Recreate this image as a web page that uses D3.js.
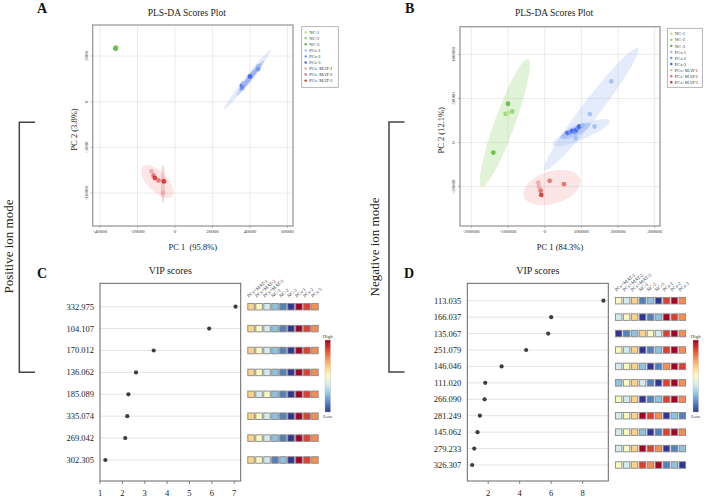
<!DOCTYPE html>
<html>
<head>
<meta charset="utf-8">
<script src="https://cdn.jsdelivr.net/npm/d3@7/dist/d3.min.js"></script>
<style>
  body { margin: 0; background: #fff; }
  svg { display: block; font-family: "Liberation Serif", "Times New Roman", serif; }
</style>
</head>
<body>
<div id="fig"></div>
<script>
// ---- data ----
const groups = ["NC-1", "NC-2", "NC-3", "PCs-1", "PCs-2", "PCs-3", "PCs+MAT-1", "PCs+MAT-2", "PCs+MAT-3"];
const groupColors = ["#b5e68c", "#8ed46a", "#5cb83c", "#9dbcf2", "#6f93ef", "#3f5ff0", "#f2a2a2", "#e26666", "#d42a2a"];

// positive mode scores (PC1, PC2)
const scoresPos = [
  { g: "NC-1", x: -31900, y: 5850 }, { g: "NC-2", x: -31500, y: 5950 }, { g: "NC-3", x: -31700, y: 5800 },
  { g: "PCs-1", x: 44400, y: 3860 }, { g: "PCs-2", x: 44400, y: 3580 }, { g: "PCs-3", x: 40000, y: 2770 },
  { g: "PCs-3", x: 35730, y: 1750 }, { g: "PCs-2", x: 35730, y: 1500 }, { g: "PCs-1", x: 36500, y: 2000 },
  { g: "PCs+MAT-1", x: -12480, y: -7625 }, { g: "PCs+MAT-2", x: -11410, y: -8100 }, { g: "PCs+MAT-3", x: -10670, y: -8350 },
  { g: "PCs+MAT-2", x: -8750, y: -8610 }, { g: "PCs+MAT-1", x: -6400, y: -8640 }, { g: "PCs+MAT-3", x: -5870, y: -8720 },
  { g: "PCs+MAT-1", x: -6400, y: -9990 }
];
// confidence ellipses: ends of the major axis + minor/major ratio
const ellipsesPos = [
  { g: "NC-2", x1: -33200, y1: 5880, x2: -30300, y2: 5880, r: 0.9 },
  { g: "PCs-1", x1: 26300, y1: -800, x2: 51200, y2: 5690, r: 0.08 },
  { g: "PCs-2", x1: 33000, y1: 700, x2: 47500, y2: 4500, r: 0.12 },
  { g: "PCs-3", x1: 34500, y1: 1200, x2: 46000, y2: 4200, r: 0.14 },
  { g: "PCs+MAT-1", x1: -17280, y1: -7080, x2: -1600, y2: -10360, r: 0.47 },
  { g: "PCs+MAT-2", x1: -6400, y1: -6890, x2: -6400, y2: -11050, r: 0.1 }
];

// negative mode scores
const scoresNeg = [
  { g: "NC-3", x: -100000, y: 44000 }, { g: "NC-2", x: -106300, y: 32600 }, { g: "NC-1", x: -100000, y: 33400 },
  { g: "NC-2", x: -88300, y: 35200 }, { g: "NC-3", x: -140000, y: -11400 },
  { g: "PCs-3", x: 61600, y: 10700 }, { g: "PCs-2", x: 68900, y: 11400 }, { g: "PCs-3", x: 75200, y: 13300 },
  { g: "PCs-2", x: 82600, y: 11800 }, { g: "PCs-3", x: 86100, y: 14400 }, { g: "PCs-2", x: 90700, y: 16400 },
  { g: "PCs-3", x: 94300, y: 18200 }, { g: "PCs-1", x: 103500, y: 19300 }, { g: "PCs-1", x: 123400, y: 32300 },
  { g: "PCs-1", x: 136200, y: 18200 }, { g: "PCs-1", x: 181500, y: 69300 }, { g: "PCs-1", x: 84500, y: 5000 },
  { g: "PCs-1", x: 54500, y: 7600 },
  { g: "PCs+MAT-1", x: -17400, y: -45500 }, { g: "PCs+MAT-1", x: -15500, y: -50000 }, { g: "PCs+MAT-2", x: -10900, y: -54500 },
  { g: "PCs+MAT-3", x: -9300, y: -59400 }, { g: "PCs+MAT-2", x: 13600, y: -43500 }, { g: "PCs+MAT-2", x: 52600, y: -47300 }
];
const ellipsesNeg = [
  { g: "NC-2", x1: -171700, y1: -50000, x2: -45500, y2: 94800, r: 0.15 },
  { g: "PCs-1", x1: 0, y1: -31000, x2: 254200, y2: 107300, r: 0.12 },
  { g: "PCs-1", x1: 20700, y1: -2600, x2: 177900, y2: 25000, r: 0.22 },
  { g: "PCs-2", x1: 42000, y1: 5200, x2: 123700, y2: 21100, r: 0.3 },
  { g: "PCs+MAT-1", x1: -56900, y1: -60900, x2: 96700, y2: -41400, r: 0.55 }
];

const ticksPosX = [-40000, -20000, 0, 20000, 40000, 60000];
const ticksPosY = [-10000, -5000, 0, 5000];
const ticksNegX = [-200000, -100000, 0, 100000, 200000, 300000];
const ticksNegY = [-50000, 0, 50000, 100000];

// VIP scores
const heatCols = ["PCs+MAT-1", "PCs+MAT-2", "PCs+MAT-3", "NC-1", "NC-2", "NC-3", "PCs-1", "PCs-2", "PCs-3"];

const vipPosNames = ["332.975", "104.107", "170.012", "136.062", "185.089", "335.074", "269.042", "302.305"];
const vipPosValues = [7.06, 5.88, 3.40, 2.61, 2.27, 2.22, 2.13, 1.24];
const vipPosTicks = [1, 2, 3, 4, 5, 6, 7];
// relative level of each metabolite per sample (1 = low ... 9 = high)
const vipPosHeat = [
  [6, 5, 4, 3, 2, 1, 9, 8, 7],
  [6, 5, 4, 3, 2, 1, 9, 8, 7],
  [6, 5, 4, 3, 2, 1, 9, 8, 7],
  [6, 5, 4, 3, 2, 1, 9, 8, 7],
  [6, 4, 5, 3, 2, 1, 9, 8, 7],
  [6, 5, 4, 3, 2, 1, 9, 8, 7],
  [6, 5, 4, 3, 2, 1, 9, 8, 7],
  [6, 5, 4, 2, 3, 1, 9, 8, 7]
];

const vipNegNames = ["113.035", "166.037", "135.067", "251.079", "146.046", "111.020", "266.090", "281.249", "145.062", "279.233", "326.307"];
const vipNegValues = [9.32, 6.0, 5.81, 4.41, 2.85, 1.81, 1.77, 1.47, 1.32, 1.11, 0.98];
const vipNegTicks = [2, 4, 6, 8];
const vipNegHeat = [
  [5, 4, 6, 2, 3, 1, 8, 9, 7],
  [4, 5, 6, 1, 2, 3, 9, 8, 7],
  [1, 2, 3, 6, 5, 4, 8, 9, 7],
  [5, 4, 6, 1, 2, 3, 8, 9, 7],
  [4, 5, 6, 3, 1, 2, 7, 9, 8],
  [3, 5, 6, 4, 2, 1, 8, 9, 7],
  [5, 4, 6, 1, 2, 3, 8, 9, 7],
  [4, 5, 6, 9, 8, 7, 1, 3, 2],
  [4, 5, 6, 3, 1, 2, 8, 9, 7],
  [4, 5, 6, 9, 8, 7, 1, 2, 3],
  [5, 4, 6, 8, 7, 9, 2, 3, 1]
];

// ---- drawing ----
const W = 708, H = 497;
const svg = d3.select("#fig").append("svg").attr("width", W).attr("height", H);
const defs = svg.append("defs");
const color = d3.scaleOrdinal().domain(groups).range(groupColors);
const heatColor = d3.scaleSequential(d3.interpolateRdYlBu).domain([9, 1]);

function panelLabel(txt, x, y) {
  svg.append("text").attr("x", x).attr("y", y)
    .attr("font-size", 14).attr("font-weight", "bold").attr("fill", "#111").text(txt);
}

function drawScores(cfg) {
  const { box, xDomain, yDomain, xTicks, yTicks, points, ellipses, xTitle, yTitle, legendBox } = cfg;
  const x = d3.scaleLinear().domain(xDomain).range([box.x0, box.x1]);
  const y = d3.scaleLinear().domain(yDomain).range([box.y1, box.y0]);
  const g = svg.append("g");

  svg.append("text").attr("x", (box.x0 + box.x1) / 2 - 6).attr("y", 16)
    .attr("text-anchor", "middle").attr("font-size", 9.5).attr("fill", "#222")
    .text("PLS-DA Scores Plot");

  // grid
  g.selectAll(".gx").data(xTicks).enter().append("line")
    .attr("x1", d => x(d)).attr("x2", d => x(d)).attr("y1", box.y0).attr("y2", box.y1)
    .attr("stroke", "#e6e6e6").attr("stroke-width", 0.8);
  g.selectAll(".gy").data(yTicks).enter().append("line")
    .attr("y1", d => y(d)).attr("y2", d => y(d)).attr("x1", box.x0).attr("x2", box.x1)
    .attr("stroke", "#e6e6e6").attr("stroke-width", 0.8);

  // ellipses
  g.selectAll(".ell").data(ellipses).enter().append("ellipse")
    .each(function (d) {
      const ax = x(d.x1), ay = y(d.y1), bx = x(d.x2), by = y(d.y2);
      const cx = (ax + bx) / 2, cy = (ay + by) / 2;
      const a = Math.hypot(bx - ax, by - ay) / 2;
      const ang = Math.atan2(by - ay, bx - ax) * 180 / Math.PI;
      d3.select(this).attr("cx", cx).attr("cy", cy).attr("rx", a).attr("ry", a * d.r)
        .attr("transform", `rotate(${ang} ${cx} ${cy})`);
    })
    .attr("fill", d => color(d.g)).attr("fill-opacity", 0.28);

  // points
  g.selectAll(".pt").data(points).enter().append("circle")
    .attr("cx", d => x(d.x)).attr("cy", d => y(d.y)).attr("r", 2.4)
    .attr("fill", d => color(d.g)).attr("fill-opacity", 0.85);

  // frame
  g.append("rect").attr("x", box.x0).attr("y", box.y0)
    .attr("width", box.x1 - box.x0).attr("height", box.y1 - box.y0)
    .attr("fill", "none").attr("stroke", "#9a9a9a").attr("stroke-width", 1.3);

  // ticks + labels
  g.selectAll(".tx").data(xTicks).enter().append("line")
    .attr("x1", d => x(d)).attr("x2", d => x(d)).attr("y1", box.y1).attr("y2", box.y1 + 2)
    .attr("stroke", "#888").attr("stroke-width", 0.6);
  g.selectAll(".lx").data(xTicks).enter().append("text")
    .attr("x", d => x(d)).attr("y", box.y1 + 7)
    .attr("text-anchor", "middle").attr("font-size", 5).attr("fill", "#333")
    .text(d => d);
  g.selectAll(".ty").data(yTicks).enter().append("line")
    .attr("y1", d => y(d)).attr("y2", d => y(d)).attr("x1", box.x0).attr("x2", box.x0 - 2)
    .attr("stroke", "#888").attr("stroke-width", 0.6);
  g.selectAll(".ly").data(yTicks).enter().append("text")
    .attr("transform", d => `translate(${box.x0 - 5},${y(d)}) rotate(-90)`)
    .attr("text-anchor", "middle").attr("font-size", 5).attr("fill", "#333")
    .text(d => d);

  g.append("text").attr("x", (box.x0 + box.x1) / 2).attr("y", box.y1 + 24)
    .attr("text-anchor", "middle").attr("font-size", 8.5).attr("fill", "#222")
    .style("white-space", "pre").text(xTitle);
  g.append("text").attr("transform", `translate(${box.x0 - 16},${(box.y0 + box.y1) / 2 + 4}) rotate(-90)`)
    .attr("text-anchor", "middle").attr("font-size", 8.5).attr("fill", "#222")
    .text(yTitle);

  // legend
  const lg = g.append("g");
  lg.append("rect").attr("x", legendBox.x).attr("y", legendBox.y)
    .attr("width", legendBox.w).attr("height", legendBox.h)
    .attr("fill", "#fff").attr("stroke", "#999").attr("stroke-width", 0.7);
  const items = lg.selectAll(".li").data(groups).enter().append("g")
    .attr("transform", (d, i) => `translate(${legendBox.x + 4},${legendBox.y + 5.5 + i * 6.05})`);
  items.append("circle").attr("r", 1.2).attr("fill", d => color(d));
  items.append("text").attr("x", 3.5).attr("y", 1.6).attr("font-size", 4.6).attr("fill", "#333").text(d => d);
}

function drawVip(cfg) {
  const { box, xDomain, ticks, names, values, heat, heatX, barX, gradId, rowRange } = cfg;
  const x = d3.scaleLinear().domain(xDomain).range([box.x0, box.x1]);
  const y = d3.scalePoint().domain(names).range(rowRange);
  const g = svg.append("g");

  g.append("text").attr("x", (box.x0 + box.x1) / 2).attr("y", 273.5)
    .attr("text-anchor", "middle").attr("font-size", 10).attr("fill", "#222").text("VIP scores");

  const rows = names.map((n, i) => ({ name: n, value: values[i], heat: heat[i] }));

  g.selectAll(".grid").data(rows).enter().append("line")
    .attr("x1", box.x0).attr("x2", box.x1).attr("y1", d => y(d.name)).attr("y2", d => y(d.name))
    .attr("stroke", "#e3e3e3").attr("stroke-width", 1);
  g.selectAll(".dot").data(rows).enter().append("circle")
    .attr("cx", d => x(d.value)).attr("cy", d => y(d.name)).attr("r", 2.1).attr("fill", "#3d3d3d");
  g.selectAll(".rl").data(rows).enter().append("text")
    .attr("x", box.x0 - 6).attr("y", d => y(d.name)).attr("dy", "0.35em")
    .attr("text-anchor", "end").attr("font-size", 8.5).attr("fill", "#222").text(d => d.name);

  g.append("rect").attr("x", box.x0).attr("y", box.y0)
    .attr("width", box.x1 - box.x0).attr("height", box.y1 - box.y0)
    .attr("fill", "none").attr("stroke", "#666").attr("stroke-width", 1);

  g.selectAll(".tk").data(ticks).enter().append("line")
    .attr("x1", d => x(d)).attr("x2", d => x(d)).attr("y1", box.y1).attr("y2", box.y1 + 3)
    .attr("stroke", "#666").attr("stroke-width", 0.8);
  g.selectAll(".tl").data(ticks).enter().append("text")
    .attr("x", d => x(d)).attr("y", box.y1 + 14.5)
    .attr("text-anchor", "middle").attr("font-size", 8.5).attr("fill", "#222").text(d => d);

  // heat squares
  const hx = d3.scaleBand().domain(heatCols).range(heatX).paddingInner(0.18);
  const cell = hx.bandwidth();
  const hr = g.selectAll(".hr").data(rows).enter().append("g");
  hr.selectAll("rect").data(d => d.heat.map((v, j) => ({ v, col: heatCols[j], row: d.name })))
    .enter().append("rect")
    .attr("x", d => hx(d.col)).attr("y", d => y(d.row) - cell / 2)
    .attr("width", cell).attr("height", cell)
    .attr("fill", d => heatColor(d.v)).attr("stroke", "#888").attr("stroke-width", 0.9);

  g.selectAll(".cl").data(heatCols).enter().append("text")
    .attr("transform", d => `translate(${hx(d) + 1},${rowRange[0] - 9}) rotate(-40)`)
    .attr("font-size", 5).attr("fill", "#444").text(d => d);

  // color bar
  const grad = defs.append("linearGradient").attr("id", gradId)
    .attr("x1", "0%").attr("x2", "0%").attr("y1", "0%").attr("y2", "100%");
  d3.range(0, 1.0001, 0.1).forEach(t => {
    grad.append("stop").attr("offset", (t * 100) + "%").attr("stop-color", d3.interpolateRdYlBu(t));
  });
  g.append("rect").attr("x", barX).attr("y", 340).attr("width", 5.5).attr("height", 72)
    .attr("fill", `url(#${gradId})`).attr("stroke", "#bbb").attr("stroke-width", 0.4);
  g.append("text").attr("x", barX + 2.75).attr("y", 337.5).attr("text-anchor", "middle")
    .attr("font-size", 5).attr("fill", "#333").text("High");
  g.append("text").attr("x", barX + 2.75).attr("y", 418).attr("text-anchor", "middle")
    .attr("font-size", 5).attr("fill", "#333").text("Low");
}

panelLabel("A", 37, 13);
panelLabel("B", 405, 13);
panelLabel("C", 37, 278);
panelLabel("D", 404, 278);

drawScores({
  box: { x0: 92.7, x1: 293, y0: 25, y1: 226 },
  xDomain: [-43900, 63000], yDomain: [-13600, 8400],
  xTicks: ticksPosX, yTicks: ticksPosY,
  points: scoresPos, ellipses: ellipsesPos,
  xTitle: "PC 1  (95.8%)", yTitle: "PC 2 (3.8%)",
  legendBox: { x: 301.7, y: 26.7, w: 36.6, h: 60.6 }
});

drawScores({
  box: { x0: 460, x1: 660, y0: 26.7, y1: 226 },
  xDomain: [-230800, 314400], yDomain: [-94700, 131400],
  xTicks: ticksNegX, yTicks: ticksNegY,
  points: scoresNeg, ellipses: ellipsesNeg,
  xTitle: "PC 1 (84.3%)", yTitle: "PC 2 (12.1%)",
  legendBox: { x: 667.3, y: 28.3, w: 35, h: 59 }
});

drawVip({
  box: { x0: 100, x1: 240.7, y0: 283.3, y1: 481 },
  xDomain: [1.0, 7.29], ticks: vipPosTicks,
  names: vipPosNames, values: vipPosValues, heat: vipPosHeat,
  rowRange: [306.7, 460], heatX: [247.8, 318.2], barX: 325, gradId: "cbPos"
});

drawVip({
  box: { x0: 467.3, x1: 608.3, y0: 283.3, y1: 481 },
  xDomain: [0.67, 9.63], ticks: vipNegTicks,
  names: vipNegNames, values: vipNegValues, heat: vipNegHeat,
  rowRange: [300.7, 465], heatX: [615.4, 685.6], barX: 693, gradId: "cbNeg"
});

// ion-mode brackets
const bracket = svg.append("g").attr("fill", "none").attr("stroke", "#444").attr("stroke-width", 1.5);
bracket.append("path").attr("d", "M35,122.3H19.3V372.3H35");
bracket.append("path").attr("d", "M404.5,122H389V372H404.5");
svg.append("text").attr("transform", "translate(12.5,246.5) rotate(-90)")
  .attr("text-anchor", "middle").attr("font-size", 13).attr("fill", "#222").text("Positive ion mode");
svg.append("text").attr("transform", "translate(378.5,247) rotate(-90)")
  .attr("text-anchor", "middle").attr("font-size", 13).attr("fill", "#222").text("Negative ion mode");
</script>
</body>
</html>
